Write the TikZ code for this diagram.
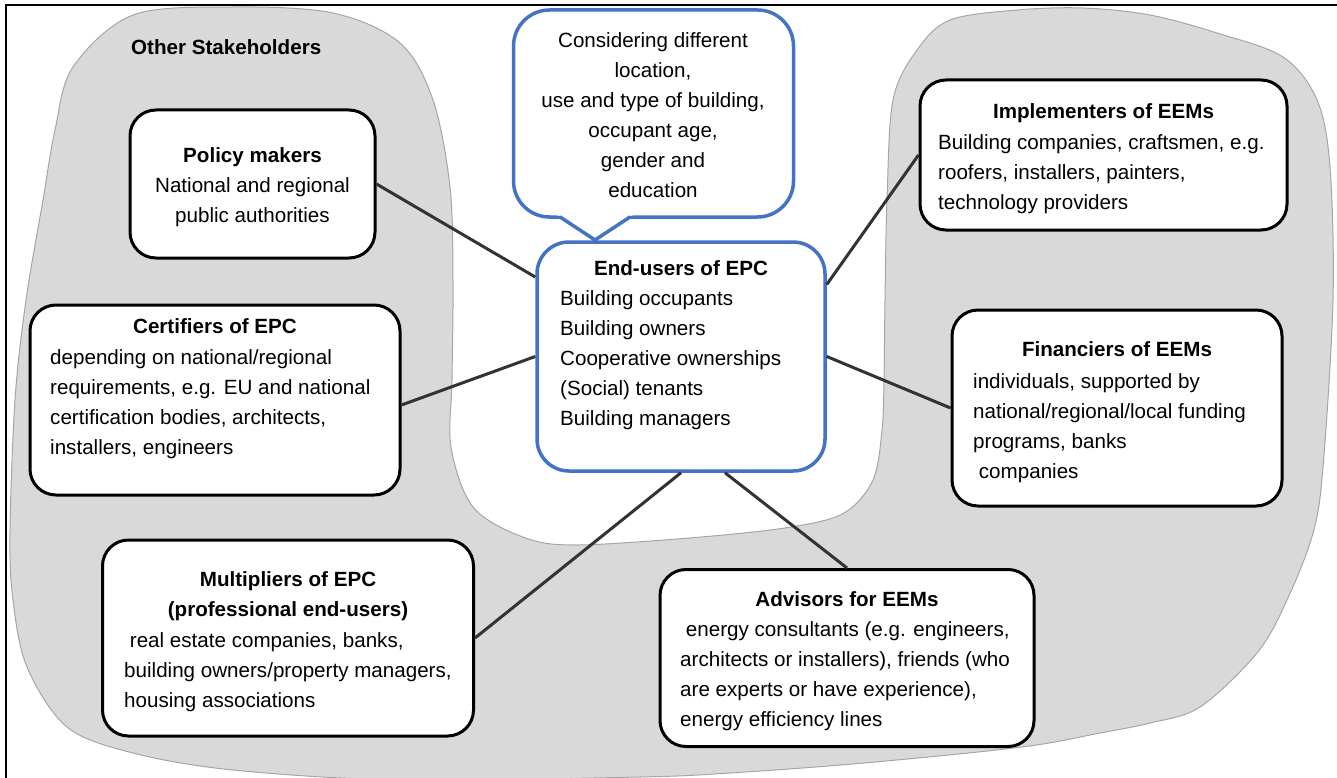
\documentclass[tikz,border=0pt]{standalone}
\usepackage{fontspec}
\setmainfont{Liberation Sans}
\usetikzlibrary{calc}
\definecolor{epcblue}{HTML}{4472C4}
\definecolor{shade}{HTML}{D9D9D9}
\definecolor{shadeline}{HTML}{A6A6A6}
\definecolor{conn}{HTML}{333333}
\tikzset{
  box/.style={draw=black, line width=3pt, fill=white, rounded corners=26pt, inner sep=0pt},
  bluebox/.style={draw=epcblue, line width=3.5pt, fill=white, rounded corners=32pt, inner sep=0pt},
  txt/.style={inner sep=0pt, font=\fontsize{20.6}{30}\selectfont, align=left},
  ttl/.style={inner sep=0pt, font=\fontsize{20.6}{30}\selectfont\bfseries},
  link/.style={draw=conn, line width=3pt},
  region/.style={fill=shade, draw=shadeline, line width=1pt},
}
\begin{document}
\begin{tikzpicture}[x=1pt, y=-1pt]
\useasboundingbox (0,0) rectangle (1337,778);
% grey stakeholder region
\draw[region] plot[smooth cycle, tension=0.55] coordinates {
 (43,200) (55,130) (73,67) (133,15) (233,7) (333,13) (400,43) (433,100) (450,187) (453,280)
 (452,380) (451,447) (473,507) (523,537) (576,545) (701,537) (791,527) (844,513) (873,480)
 (882,430) (884,380) (885,300) (887,200) (893,100) (917,50) (950,20) (1017,10) (1083,8)
 (1150,15) (1217,33) (1283,57) (1317,100) (1330,167) (1333,300) (1323,467) (1313,533)
 (1287,600) (1257,653) (1200,707) (1150,723) (1100,733) (1022,747) (864,763) (730,773)
 (640,777) (400,780) (233,770) (133,753) (67,727) (27,667) (13,600) (10,533) (15,400) (26,300)};
% frame
\draw[line width=2pt] (6,780) -- (6,5) -- (1340,5);
\node[ttl, anchor=base west] (other) at (131,55) {Other Stakeholders};

% boxes
\node[box, minimum width=245pt, minimum height=148pt] (policy) at (252.5,184) {};
\node[box, minimum width=370pt, minimum height=190pt] (cert) at (215,400) {};
\node[box, minimum width=371pt, minimum height=196pt] (mult) at (288,638) {};
\node[box, minimum width=374pt, minimum height=177pt] (adv) at (847,658) {};
\node[box, minimum width=330pt, minimum height=196pt] (fin) at (1117,408) {};
\node[box, minimum width=367pt, minimum height=150pt] (impl) at (1103.5,155) {};
\node[bluebox, minimum width=288pt, minimum height=229pt] (eu) at (681,356.5) {};
\node[bluebox, rounded corners=36pt, minimum width=280pt, minimum height=207pt] (callout) at (653.5,113.5) {};
\coordinate (ptip) at (595,240);
\fill[white] (552.4,212) -- (ptip) -- (637.6,212) -- cycle;
\draw[epcblue, line width=3.5pt, line join=round, line cap=round] (560,217) -- (ptip) -- (630,217);

% connectors
\draw[link] (policy.east) -- ([yshift=79.5pt]eu.west);
\draw[link] ([yshift=-5pt]cert.east) -- (eu.west);
\draw[link] (impl.west) -- ([yshift=72pt]eu.east);
\draw[link] (fin.west) -- (eu.east);
\draw[link] (mult.east) -- (eu.south);
\draw[link] ([xshift=44pt]eu.south) -- (adv.north);

% texts
\node[txt, align=center, anchor=north] (callout-t) at (653,26.7)
  {\strut Considering different\\location,\\use and type of building,\\occupant age,\\gender and\\education\strut};
\node[txt, align=center, anchor=north] (policy-t) at (252.5,141.7)
  {\strut\textbf{Policy makers}\\National and regional\\public authorities\strut};
\node[ttl, anchor=base] (cert-h) at (215,333.3) {Certifiers of EPC};
\node[txt, anchor=north west] (cert-b) at (50,343)
  {\strut depending on national/regional\\requirements, e.g. EU and national\\certification bodies, architects,\\installers, engineers\strut};
\node[txt, align=center, anchor=north, font=\fontsize{20.6}{30}\selectfont\bfseries] (mult-h) at (288,565.7)
  {\strut Multipliers of EPC\\(professional end-users)\strut};
\node[txt, anchor=north west] (mult-b) at (124,626.3)
  {\strut\hspace*{0.278em}real estate companies, banks,\\building owners/property managers,\\housing associations\strut};
\node[ttl, anchor=base] (adv-h) at (847,606.7) {Advisors for EEMs};
\node[txt, anchor=north west] (adv-b) at (680,615.7)
  {\strut\hspace*{0.278em}energy consultants (e.g. engineers,\\architects or installers), friends (who\\are experts or have experience),\\energy efficiency lines\strut};
\node[ttl, anchor=base] (fin-h) at (1117,356.7) {Financiers of EEMs};
\node[txt, anchor=north west] (fin-b) at (973,367.3)
  {\strut individuals, supported by\\national/regional/local funding\\programs, banks\\\hspace*{0.278em}companies\strut};
\node[ttl, anchor=base] (impl-h) at (1103.5,119) {Implementers of EEMs};
\node[txt, anchor=north west] (impl-b) at (938,128.5)
  {\strut Building companies, craftsmen, e.g.\\roofers, installers, painters,\\technology providers\strut};
\node[ttl, anchor=base] (eu-h) at (681,275) {End-users of EPC};
\node[txt, anchor=north west] (eu-b) at (560,284)
  {\strut Building occupants\\Building owners\\Cooperative ownerships\\(Social) tenants\\Building managers\strut};
\end{tikzpicture}
\end{document}
